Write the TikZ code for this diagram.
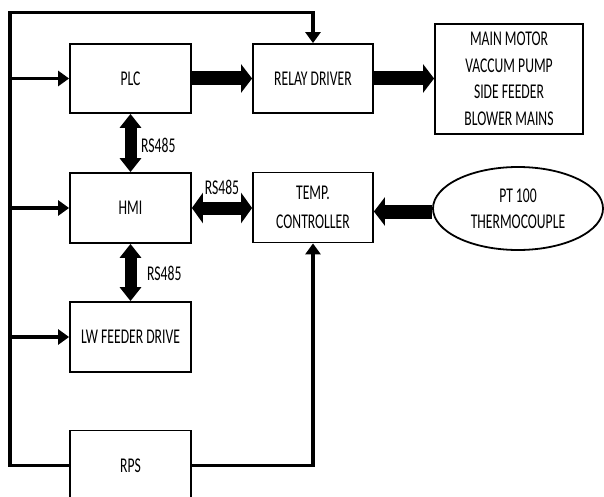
\documentclass[tikz,border=0pt]{standalone}
\usepackage{fontspec}
\setmainfont{Carlito}[FakeStretch=0.65]
\usetikzlibrary{arrows.meta,shapes.geometric}
\begin{document}
\begin{tikzpicture}[x=1pt,y=-1pt,
  box/.style={draw,line width=1.8pt,minimum width=121pt,minimum height=69pt,inner sep=0pt,align=center,font=\fontsize{21}{26}\selectfont},
  lbl/.style={font=\fontsize{21}{26}\selectfont,inner sep=0pt},
  thinarrow/.style={line width=3.6pt,-{Triangle[length=11pt,width=15pt]}},
  blockarrow/.style={line width=14pt,-{Triangle[length=11pt,width=28pt]}},
  dblarrow/.style={line width=12pt,{Triangle[length=14pt,width=21pt]}-{Triangle[length=14pt,width=21pt]}},
  hdblarrow/.style={line width=13pt,{Triangle[length=11pt,width=30pt]}-{Triangle[length=11pt,width=30pt]}}]
\useasboundingbox (0,0) rectangle (604,497);
\node[box] (plc) at (130.5,78.5) {PLC};
\node[box,minimum width=120pt] (relay) at (313,78.5) {RELAY DRIVER};
\node[box,minimum width=148pt,minimum height=110pt,font=\fontsize{21}{26.5}\selectfont] (main) at (509,79) {MAIN MOTOR\\VACCUM PUMP\\SIDE FEEDER\\BLOWER MAINS};
\node[box,minimum height=70pt] (hmi) at (130.5,208) {HMI};
\node[box,minimum width=120pt,minimum height=70pt,font=\fontsize{21}{29}\selectfont] (temp) at (313,207.5) {TEMP.\\CONTROLLER};
\node[draw,ellipse,line width=1.8pt,minimum width=170pt,minimum height=83pt,inner sep=0pt,align=center,font=\fontsize{21}{26}\selectfont] (pt) at (518,208.5) {PT 100\\THERMOCOUPLE};
\node[box,minimum height=70pt] (lw) at (130.5,337) {LW FEEDER DRIVE};
\node[box,minimum height=70pt] (rps) at (130.5,465.5) {RPS};
\coordinate (bus) at (10,12.5);
\coordinate (busbot) at (10,465.5);
% bus lines
\draw[thinarrow] (rps.west) -- (busbot) -- (bus) -| (relay.north);
\draw[thinarrow] (plc.west -| bus) -- (plc.west);
\draw[thinarrow] (hmi.west -| bus) -- (hmi.west);
\draw[thinarrow] (lw.west -| bus) -- (lw.west);
\draw[thinarrow] (rps.east) -| (temp.south);
% block arrows
\draw[blockarrow] (plc.east) -- (relay.west);
\draw[blockarrow] (relay.east) -- (main.west |- relay.east);
\draw[blockarrow] (pt.west |- 0,211.5) -- (temp.east |- 0,211.5);
\draw[hdblarrow] (hmi.east) -- (temp.west |- hmi.east);
\draw[dblarrow] (plc.south) -- (hmi.north);
\draw[dblarrow] (hmi.south) -- (lw.north);
% labels
\node[lbl,anchor=west] (l1) at (141,145) {RS485};
\node[lbl,anchor=west] (l2) at (147,273) {RS485};
\node[lbl] (l3) at (222,187) {RS485};
\end{tikzpicture}
\end{document}
